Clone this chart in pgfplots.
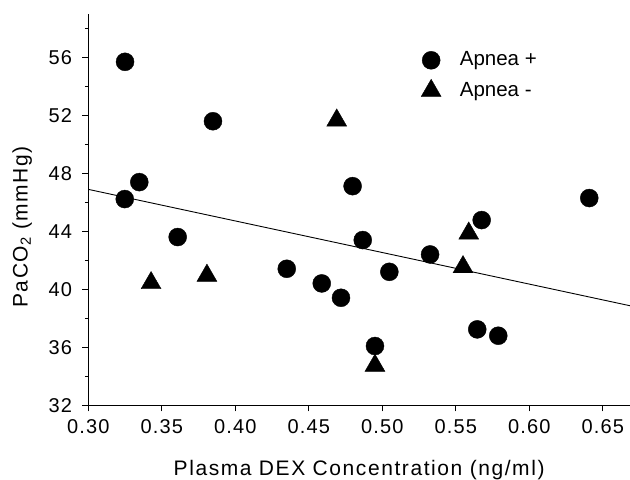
\documentclass[border=0pt]{standalone}
\usepackage{fontspec}
\setmainfont{Liberation Sans}
\usepackage{pgfplots}
\pgfplotsset{compat=1.18}

\newcommand{\tickfont}{\fontsize{20bp}{22bp}\selectfont\addfontfeature{LetterSpace=6}}
\newcommand{\labelfont}{\fontsize{21bp}{24bp}\selectfont\addfontfeature{LetterSpace=7.5}}
\newcommand{\legfont}{\fontsize{20.5bp}{24bp}\selectfont}

\begin{document}
\begin{tikzpicture}
\begin{axis}[
    scale only axis,
    width=541.7bp, height=391.3bp,
    xmin=0.30, xmax=0.6685,
    ymin=32, ymax=59,
    axis x line*=bottom,
    axis y line*=left,
    axis line style={black, line width=1bp},
    xtick={0.30,0.35,0.40,0.45,0.50,0.55,0.60,0.65},
    ytick={32,36,40,44,48,52,56},
    minor ytick={34,38,42,46,50,54,58},
    tick align=outside,
    major tick length=6bp,
    minor tick length=3.5bp,
    every tick/.style={black, line width=1bp},
    /pgf/number format/assume math mode=true,
    xticklabel style={font=\tickfont, inner sep=0pt, anchor=north,
        /pgf/number format/.cd, fixed, fixed zerofill, precision=2},
    yticklabel style={font=\tickfont, inner sep=0pt, anchor=east},
    xticklabel shift=8bp,
    yticklabel shift=10bp,
    xlabel={Plasma DEX Concentration (ng/ml)},
    ylabel={PaCO\textsubscript{2} (mmHg)},
    xlabel style={font=\labelfont, at={(rel axis cs:0.5,0)}, anchor=base, yshift=-69.7bp, inner sep=0pt},
    ylabel style={font=\labelfont, at={(rel axis cs:0,0.456)}, anchor=north, yshift=76bp, inner sep=0pt},
    legend style={at={(rel axis cs:0.6142,0.9052)}, anchor=north west,
        draw=none, fill=none, inner sep=0pt, font=\legfont,
        nodes={inner sep=0pt}, row sep=10bp},
    legend cell align=left,
    legend image code/.code={
        \draw[#1] plot coordinates {(9bp,-0.8bp)};
        \path[draw=none] (0bp,0bp) -- (37.7bp,0bp);
    },
]

% Apnea +
\addplot[only marks, mark=*, mark size=9bp, black] coordinates {
    (0.3250,55.70) (0.3848,51.60) (0.3347,47.40) (0.3248,46.23)
    (0.3608,43.61) (0.4350,41.42) (0.4588,40.41) (0.4719,39.42)
    (0.4798,47.12) (0.4867,43.40) (0.4950,36.09) (0.5048,41.21)
    (0.5325,42.41) (0.5646,37.24) (0.5676,44.78) (0.5789,36.80)
    (0.6408,46.30)
};
\addlegendentry{Apnea +}

% Apnea -
\addplot[only marks, mark=triangle*, mark size=11.5bp, black] coordinates {
    (0.3427,40.44) (0.3807,40.95) (0.4690,51.66)
    (0.5549,41.54) (0.5588,43.86) (0.4950,34.74)
};
\addlegendentry{Apnea -}

% regression line
\addplot[black, line width=0.9bp, forget plot] coordinates {
    (0.30,46.90) (0.6685,38.87)
};

\coordinate (sw) at (rel axis cs:0,0);
\coordinate (ne) at (rel axis cs:1,1);
\end{axis}
\pgfresetboundingbox
\path ([shift={(-88.3bp,-74.7bp)}]sw) rectangle ([shift={(0bp,14bp)}]ne);
\end{tikzpicture}
\end{document}
